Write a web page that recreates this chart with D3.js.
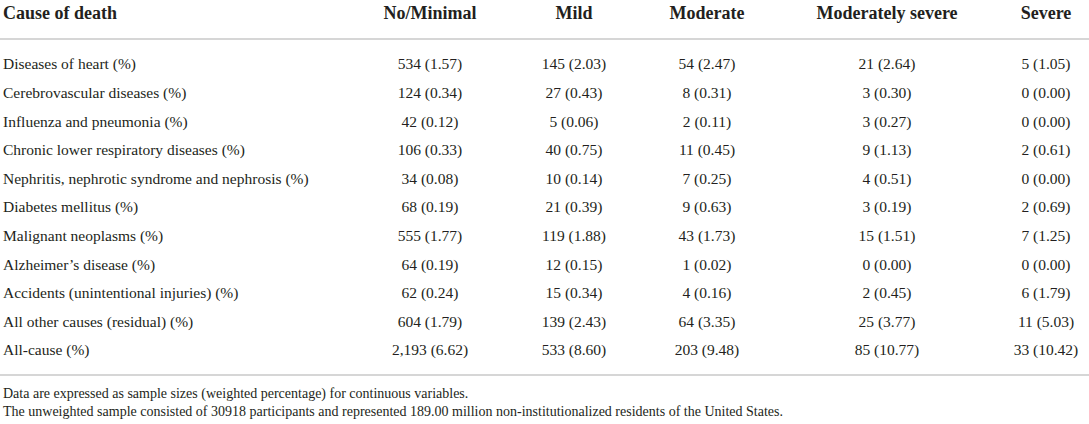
<!DOCTYPE html>
<html>
<head>
<meta charset="utf-8">
<script src="https://cdn.jsdelivr.net/npm/d3@7"></script>
<style>
  html, body { margin: 0; padding: 0; background: #fff; }
  svg text { font-family: "Liberation Serif", "DejaVu Serif", serif; fill: #231f20; }
  .head { font-weight: bold; font-size: 18px; }
  .cell { font-size: 15.5px; }
  .note { font-size: 14px; }
</style>
</head>
<body>
<div id="container"></div>
<script>
"use strict";

// table content
const causes = [
    "Diseases of heart (%)",
    "Cerebrovascular diseases (%)",
    "Influenza and pneumonia (%)",
    "Chronic lower respiratory diseases (%)",
    "Nephritis, nephrotic syndrome and nephrosis (%)",
    "Diabetes mellitus (%)",
    "Malignant neoplasms (%)",
    "Alzheimer’s disease (%)",
    "Accidents (unintentional injuries) (%)",
    "All other causes (residual) (%)",
    "All-cause (%)"
];
const groups = ["No/Minimal", "Mild", "Moderate", "Moderately severe", "Severe"];

const noMinimalN = [534, 124, 42, 106, 34, 68, 555, 64, 62, 604, 2193];
const noMinimalPct = [1.57, 0.34, 0.12, 0.33, 0.08, 0.19, 1.77, 0.19, 0.24, 1.79, 6.62];
const mildN = [145, 27, 5, 40, 10, 21, 119, 12, 15, 139, 533];
const mildPct = [2.03, 0.43, 0.06, 0.75, 0.14, 0.39, 1.88, 0.15, 0.34, 2.43, 8.60];
const moderateN = [54, 8, 2, 11, 7, 9, 43, 1, 4, 64, 203];
const moderatePct = [2.47, 0.31, 0.11, 0.45, 0.25, 0.63, 1.73, 0.02, 0.16, 3.35, 9.48];
const modSevereN = [21, 3, 3, 9, 4, 3, 15, 0, 2, 25, 85];
const modSeverePct = [2.64, 0.30, 0.27, 1.13, 0.51, 0.19, 1.51, 0.00, 0.45, 3.77, 10.77];
const severeN = [5, 0, 0, 2, 0, 2, 7, 0, 6, 11, 33];
const severePct = [1.05, 0.00, 0.00, 0.61, 0.00, 0.69, 1.25, 0.00, 1.79, 5.03, 10.42];

const notes = [
    "Data are expressed as sample sizes (weighted percentage) for continuous variables.",
    "The unweighted sample consisted of 30918 participants and represented 189.00 million non-institutionalized residents of the United States."
];

const width = 1089, height = 424;
const svg = d3.select("#container").append("svg")
    .attr("width", width)
    .attr("height", height);

const comma = d3.format(",");
const fixed = d3.format(".2f");

const columns = [
    [noMinimalN, noMinimalPct],
    [mildN, mildPct],
    [moderateN, moderatePct],
    [modSevereN, modSeverePct],
    [severeN, severePct]
];

// column centres and row positions
const x = d3.scaleOrdinal()
    .domain(groups)
    .range([430, 574, 707, 887, 1046]);
const y = d3.scalePoint()
    .domain(causes)
    .range([64, 350]);

// header
svg.append("text")
    .attr("class", "head")
    .attr("x", 3)
    .attr("y", 13)
    .attr("dy", "0.35em")
    .text("Cause of death");

svg.selectAll(".colhead")
    .data(groups)
    .enter().append("text")
        .attr("class", "head colhead")
        .attr("x", d => x(d))
        .attr("y", 13)
        .attr("dy", "0.35em")
        .attr("text-anchor", "middle")
        .text(d => d);

// rules
svg.selectAll(".rule")
    .data([39, 375])
    .enter().append("line")
        .attr("class", "rule")
        .attr("x1", 0)
        .attr("x2", width)
        .attr("y1", d => d)
        .attr("y2", d => d)
        .attr("stroke", "#c8c8c8")
        .attr("stroke-width", 1.5);

// row labels
svg.selectAll(".rowlabel")
    .data(causes)
    .enter().append("text")
        .attr("class", "cell rowlabel")
        .attr("x", 3)
        .attr("y", d => y(d))
        .attr("dy", "0.35em")
        .text(d => d);

// cells
columns.forEach(function([counts, pcts], j) {
    svg.append("g")
        .selectAll("text")
        .data(causes)
        .enter().append("text")
            .attr("class", "cell")
            .attr("x", x(groups[j]))
            .attr("y", d => y(d))
            .attr("dy", "0.35em")
            .attr("text-anchor", "middle")
            .text((d, i) => comma(counts[i]) + " (" + fixed(pcts[i]) + ")");
});

// footnotes
svg.selectAll(".note")
    .data(notes)
    .enter().append("text")
        .attr("class", "note")
        .attr("x", 3)
        .attr("y", (d, i) => 393 + i * 18)
        .attr("dy", "0.35em")
        .text(d => d);
</script>
</body>
</html>
